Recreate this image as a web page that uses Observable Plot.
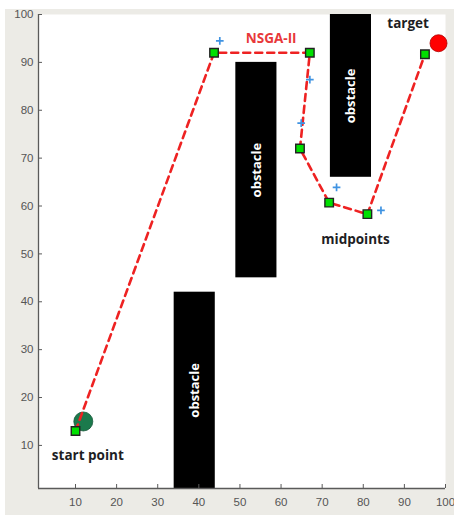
<!DOCTYPE html>
<html>
<head>
<meta charset="utf-8">
<script src="https://cdn.jsdelivr.net/npm/d3@7"></script>
<script src="https://cdn.jsdelivr.net/npm/@observablehq/plot@0.6"></script>
<style>
  html, body { margin: 0; padding: 0; background: #ffffff; overflow: hidden; }
</style>
</head>
<body>
<div id="chart"></div>
<script>
// Obstacles
const obstacleX1 = [34, 49, 72];
const obstacleX2 = [44, 59, 82];
const obstacleY1 = [0, 45, 66];
const obstacleY2 = [42, 90, 100];
const obstacleLabel = ["obstacle", "obstacle", "obstacle"];

// NSGA-II path (green squares)
const pathX = [10, 43.7, 67, 64.6, 71.7, 81, 95];
const pathY = [13, 92, 92, 72, 60.7, 58.3, 91.7];

// Blue plus markers
const plusX = [45.1, 67, 64.9, 73.5, 84.3];
const plusY = [94.5, 86.4, 77.3, 63.9, 59.1];

// Start and target points
const startPt = [{x: 11.9, y: 15}];
const targetPt = [{x: 98.3, y: 94}];

// Annotations
const noteText = ["NSGA-II", "target", "midpoints", "start point"];
const noteX = [57.6, 90.9, 78.1, 13];
const noteY = [94.9, 98, 53, 7.8];
const noteColor = ["#e8383a", "#1e1e24", "#1e1e24", "#1e1e24"];

// Tick values
const xTicks = [10, 20, 30, 40, 50, 60, 70, 80, 90, 100];
const yTicks = [10, 20, 30, 40, 50, 60, 70, 80, 90, 100];

const obstacles = obstacleX1.map((x1, i) => ({
  x1, x2: obstacleX2[i], y1: obstacleY1[i], y2: obstacleY2[i], label: obstacleLabel[i]
}));
const path = pathX.map((x, i) => ({x, y: pathY[i]}));
const pluses = plusX.map((x, i) => ({x, y: plusY[i]}));
const notes = noteText.map((t, i) => ({t, x: noteX[i], y: noteY[i], c: noteColor[i]}));

const axisColor = "#5a5a5a";
const labelFont = "'Open Sans', 'Noto Sans', sans-serif";

const plot = Plot.plot({
  width: 454,
  height: 515,
  marginLeft: 38,
  marginRight: 9,
  marginTop: 14,
  marginBottom: 27,
  x: {domain: [1, 100], axis: null},
  y: {domain: [1, 100], axis: null},
  style: {
    background: "linear-gradient(#ecebe6, #ecebe6) 5px 9px / 100% 100% no-repeat, #ffffff",
    fontFamily: "'Liberation Sans', Arial, sans-serif"
  },
  marks: [
    Plot.frame({fill: "#ffffff", stroke: null}),
    Plot.rect(obstacles, {x1: "x1", x2: "x2", y1: "y1", y2: "y2", fill: "#000000", clip: true}),
    Plot.text(obstacles, {
      x: d => (d.x1 + d.x2) / 2,
      y: d => (Math.max(d.y1, 1) + d.y2) / 2,
      text: "label", rotate: -90, fill: "#ffffff",
      fontWeight: "bold", fontSize: 13, fontFamily: labelFont
    }),
    Plot.dot(startPt, {x: "x", y: "y", r: 9.5, fill: "#1b7a4c", stroke: "#17583a", strokeWidth: 0.8}),
    Plot.line(path, {x: "x", y: "y", stroke: "#ee2222", strokeWidth: 2.6, strokeDasharray: "7,5"}),
    Plot.dot(pluses, {x: "x", y: "y", symbol: "plus", r: 2.6, fill: "none", stroke: "#3f93e2", strokeWidth: 1.7}),
    Plot.dot(path, {x: "x", y: "y", symbol: "square", r: 4.8, fill: "#00e000", stroke: "#222222", strokeWidth: 1.4}),
    Plot.dot(targetPt, {x: "x", y: "y", r: 8.5, fill: "#ff0000", stroke: "#b00000", strokeWidth: 0.8}),
    Plot.text(notes, {x: "x", y: "y", text: "t", fill: "c", fontWeight: "bold", fontSize: 13.5, fontFamily: labelFont}),
    Plot.ruleX([1], {stroke: axisColor, strokeWidth: 1.3}),
    Plot.ruleY([1], {stroke: axisColor, strokeWidth: 1.3}),
    Plot.axisX({ticks: xTicks, tickSize: 4, dy: -4, text: null, stroke: axisColor, anchor: "bottom"}),
    Plot.axisX({ticks: xTicks, tickSize: 0, tickPadding: 9, anchor: "bottom", fill: "#555555", fontSize: 11.5, label: null}),
    Plot.axisY({ticks: yTicks, tickSize: 4, dx: 4, text: null, stroke: axisColor, anchor: "left"}),
    Plot.axisY({ticks: yTicks, tickSize: 0, tickPadding: 5, anchor: "left", fill: "#555555", fontSize: 11.5, label: null})
  ]
});

document.getElementById("chart").appendChild(plot);
</script>
</body>
</html>
